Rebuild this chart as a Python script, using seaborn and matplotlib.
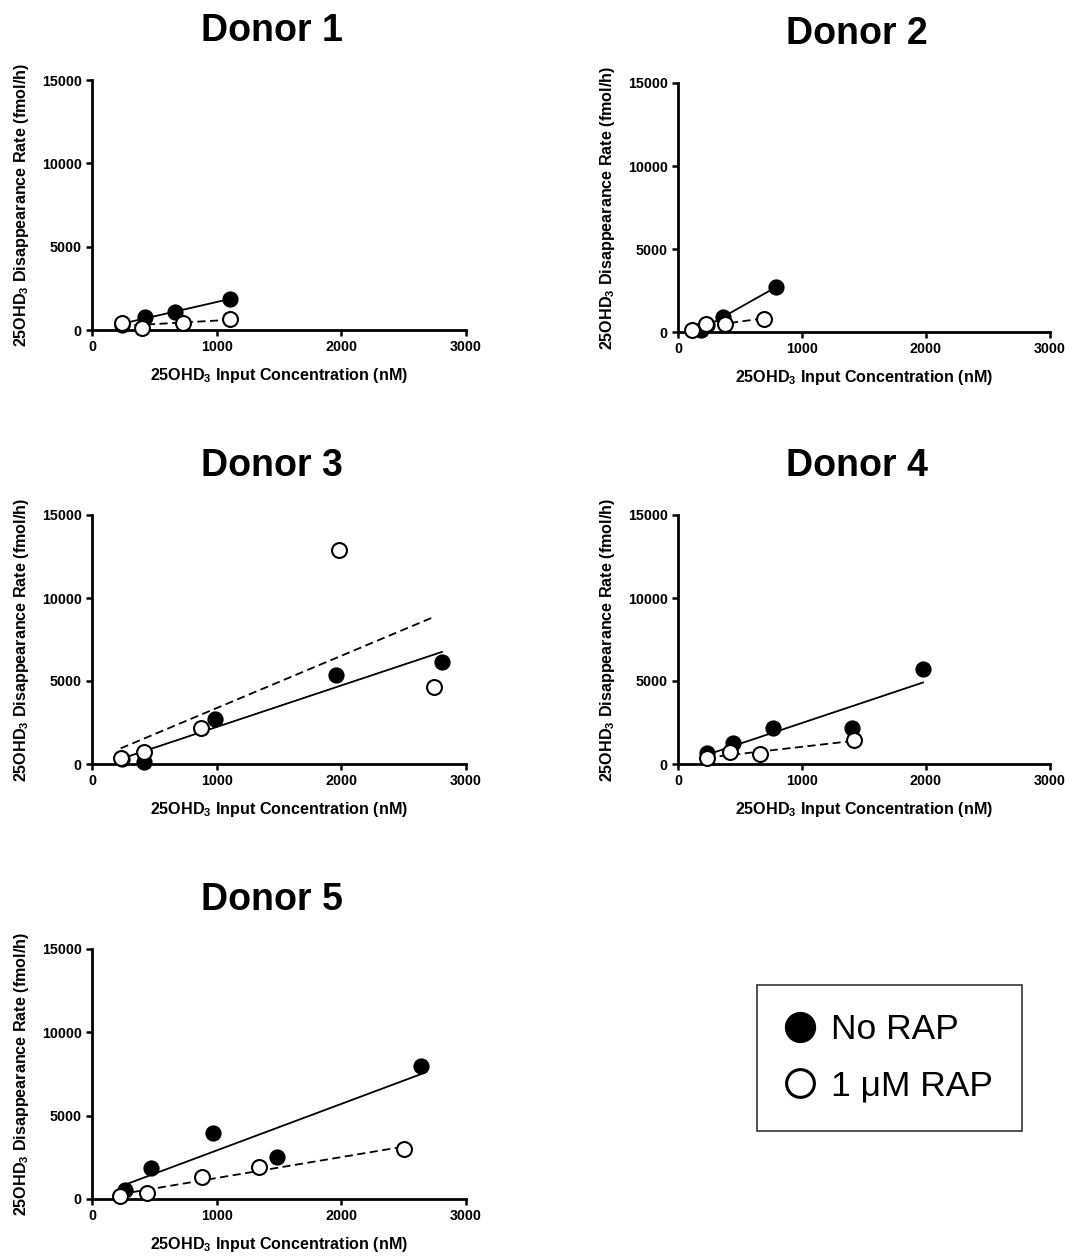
import numpy as np
import pandas as pd
import matplotlib
matplotlib.use("Agg")
import matplotlib.pyplot as plt
from matplotlib.lines import Line2D
import seaborn as sns

# Input concentration (nM) and disappearance rate (fmol/h) per donor
d1_norap_x = [240, 426, 667, 1110]
d1_norap_y = [300, 800, 1100, 1850]
d1_rap_x = [238, 405, 728, 1103]
d1_rap_y = [440, 100, 400, 680]

d2_norap_x = [188, 230, 362, 791]
d2_norap_y = [100, 420, 900, 2700]
d2_rap_x = [116, 223, 375, 697]
d2_rap_y = [100, 500, 500, 800]

d3_norap_x = [240, 420, 986, 1959, 2809]
d3_norap_y = [300, 150, 2720, 5360, 6160]
d3_rap_x = [230, 418, 871, 1983, 2747]
d3_rap_y = [360, 700, 2160, 12900, 4660]

d4_norap_x = [234, 440, 766, 1402, 1978]
d4_norap_y = [640, 1250, 2180, 2140, 5700]
d4_rap_x = [234, 418, 658, 1416]
d4_rap_y = [340, 700, 600, 1420]

d5_norap_x = [268, 477, 968, 1482, 2640]
d5_norap_y = [540, 1840, 3980, 2540, 8000]
d5_rap_x = [228, 445, 879, 1342, 2505]
d5_rap_y = [200, 340, 1340, 1940, 2980]

donor_titles = ["Donor 1", "Donor 2", "Donor 3", "Donor 4", "Donor 5"]
x_ticks = [0, 1000, 2000, 3000]
y_ticks = [0, 5000, 10000, 15000]
legend_labels = ["No RAP", "1 \u03bcM RAP"]

donors = [
    (d1_norap_x, d1_norap_y, d1_rap_x, d1_rap_y),
    (d2_norap_x, d2_norap_y, d2_rap_x, d2_rap_y),
    (d3_norap_x, d3_norap_y, d3_rap_x, d3_rap_y),
    (d4_norap_x, d4_norap_y, d4_rap_x, d4_rap_y),
    (d5_norap_x, d5_norap_y, d5_rap_x, d5_rap_y),
]

sns.set_style("ticks")
plt.rcParams["font.family"] = ["Liberation Sans", "DejaVu Sans"]
plt.rcParams["mathtext.fontset"] = "custom"
plt.rcParams["mathtext.rm"] = "Liberation Sans:bold"
plt.rcParams["mathtext.bf"] = "Liberation Sans:bold"
plt.rcParams["mathtext.default"] = "bf"
for key in ("text.color", "axes.labelcolor", "xtick.color", "ytick.color",
            "axes.edgecolor"):
    plt.rcParams[key] = "black"

W, H = 1073, 1256
fig = plt.figure(figsize=(W / 100, H / 100), dpi=100)

# axes boxes in pixels: left, top, right, bottom
boxes = [
    (92, 80, 466, 330),
    (678, 83, 1050, 332),
    (92, 515, 466, 764),
    (678, 515, 1050, 764),
    (92, 949, 466, 1199),
]

for (nx, ny, rx, ry), title, (l, t, r, b) in zip(donors, donor_titles, boxes):
    ax = fig.add_axes([l / W, 1 - b / H, (r - l) / W, (b - t) / H])
    df_n = pd.DataFrame({"conc": nx, "rate": ny})
    df_r = pd.DataFrame({"conc": rx, "rate": ry})

    sns.regplot(data=df_n, x="conc", y="rate", ax=ax, ci=None, scatter=False,
                truncate=True, line_kws=dict(color="black", lw=1.3, zorder=2))
    sns.regplot(data=df_r, x="conc", y="rate", ax=ax, ci=None, scatter=False,
                truncate=True, line_kws=dict(color="black", lw=1.3,
                                             ls=(0, (4.5, 2.5)), zorder=2))
    sns.scatterplot(data=df_n, x="conc", y="rate", ax=ax, color="black",
                    edgecolor="black", linewidth=1.2, s=110, zorder=3,
                    clip_on=False)
    sns.scatterplot(data=df_r, x="conc", y="rate", ax=ax, color="white",
                    edgecolor="black", linewidth=1.5, s=115, zorder=4,
                    clip_on=False)

    ax.set_xlim(0, 3000)
    ax.set_ylim(0, 15000)
    ax.set_xticks(x_ticks)
    ax.set_yticks(y_ticks)
    ax.tick_params(axis="both", labelsize=10.3, width=1.8, length=4.5,
                   direction="out", pad=3, color="black")
    for lab in ax.get_xticklabels() + ax.get_yticklabels():
        lab.set_fontweight("bold")
    for side in ("left", "bottom"):
        ax.spines[side].set_linewidth(2.0)
        ax.spines[side].set_color("black")
    sns.despine(ax=ax)
    ax.set_xlabel(r"25OHD$_3$ Input Concentration (nM)", fontsize=11.6,
                  fontweight="bold", labelpad=8)
    ax.set_ylabel(r"25OHD$_3$ Disappearance Rate (fmol/h)", fontsize=11.6,
                  fontweight="bold", labelpad=8)
    ax.set_title(title, fontsize=27, fontweight="bold", pad=28, x=0.48)

handles = [
    Line2D([], [], ls="none", marker="o", ms=21.5, mfc="black", mec="black"),
    Line2D([], [], ls="none", marker="o", ms=20, mfc="white", mec="black",
           mew=2.2),
]
leg = fig.legend(handles, legend_labels, loc="upper left",
                 bbox_to_anchor=(757 / W, 1 - 985 / H), fontsize=25.5,
                 frameon=True, fancybox=False, edgecolor="black",
                 borderpad=0.8, labelspacing=0.65, handlelength=0.85,
                 handletextpad=0.45, borderaxespad=0)
leg.get_frame().set_linewidth(1.2)

fig.savefig("out.png", dpi=100)
